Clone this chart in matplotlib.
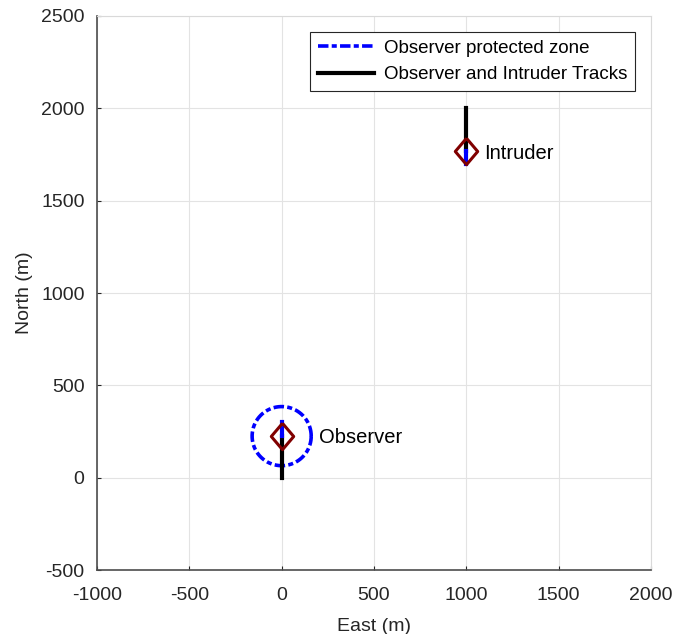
import numpy as np
import matplotlib.pyplot as plt

plt.rcParams['font.family'] = ['Liberation Sans', 'DejaVu Sans']
plt.rcParams['axes.unicode_minus'] = False

# positions (m)
obs_track_east = [0, 0]
obs_track_north = [0, 225]
int_track_east = [1000, 1000]
int_track_north = [2000, 1770]

obs_pos = (0, 225)
int_pos = (1000, 1770)
obs_vel_end = (0, 300)
int_vel_end = (1000, 1700)
zone_radius = 160

labels = ['Observer', 'Intruder']
label_pos = [(200, 215), (1095, 1755)]

xticks = [-1000, -500, 0, 500, 1000, 1500, 2000]
yticks = [-500, 0, 500, 1000, 1500, 2000, 2500]

fig = plt.figure(figsize=(6.89, 6.34), dpi=100)
ax = fig.add_axes([0.1408, 0.1009, 0.8040, 0.8739])

th = np.linspace(0, 2 * np.pi, 300)
ax.plot(obs_pos[0] + zone_radius * np.cos(th), obs_pos[1] + zone_radius * np.sin(th),
        color='blue', lw=2.6, dashes=(2.9, 0.9, 1.4, 0.9),
        label='Observer protected zone')
ax.plot(obs_track_east, obs_track_north, color='black', lw=3,
        label='Observer and Intruder Tracks')
ax.plot(int_track_east, int_track_north, color='black', lw=3)

ax.plot([obs_pos[0], obs_vel_end[0]], [obs_pos[1], obs_vel_end[1]], color='blue', lw=3)
ax.plot([int_pos[0], int_vel_end[0]], [int_pos[1], int_vel_end[1]], color='blue', lw=3)

diamond = [(0, 1), (0.85, 0), (0, -1), (-0.85, 0), (0, 1)]
for p in (obs_pos, int_pos):
    ax.plot(p[0], p[1], marker=diamond, ms=19, mfc='none', mec=(0.5, 0, 0), mew=2.2)

for name, (x, y) in zip(labels, label_pos):
    ax.text(x, y, name, fontsize=14.5, va='center', ha='left')

ax.set_xlim(-1000, 2000)
ax.set_ylim(-500, 2500)
ax.set_xticks(xticks)
ax.set_yticks(yticks)
ax.tick_params(direction='in', labelsize=14, colors='#262626', length=3, width=0.8)
ax.tick_params(axis='y', pad=9)
ax.tick_params(axis='x', pad=12)
for s in ('left', 'bottom'):
    ax.spines[s].set_color('#4d4d4d')
    ax.spines[s].set_linewidth(1.2)
for s in ('top', 'right'):
    ax.spines[s].set_color('#d9d9d9')
    ax.spines[s].set_linewidth(0.8)
ax.grid(True, color='#e3e3e3', lw=0.8)
ax.set_axisbelow(True)
ax.set_xlabel('East (m)', fontsize=14, labelpad=10, color='#262626')
ax.set_ylabel('North (m)', fontsize=14, labelpad=6, color='#262626')

leg = ax.legend(loc='upper right', fontsize=13.5, fancybox=False, framealpha=1,
                edgecolor='#262626', handlelength=3.0, borderaxespad=0.85,
                handletextpad=0.5, borderpad=0.42, labelspacing=0.5)
leg.get_frame().set_linewidth(0.8)

fig.savefig('out.png', dpi=100)
